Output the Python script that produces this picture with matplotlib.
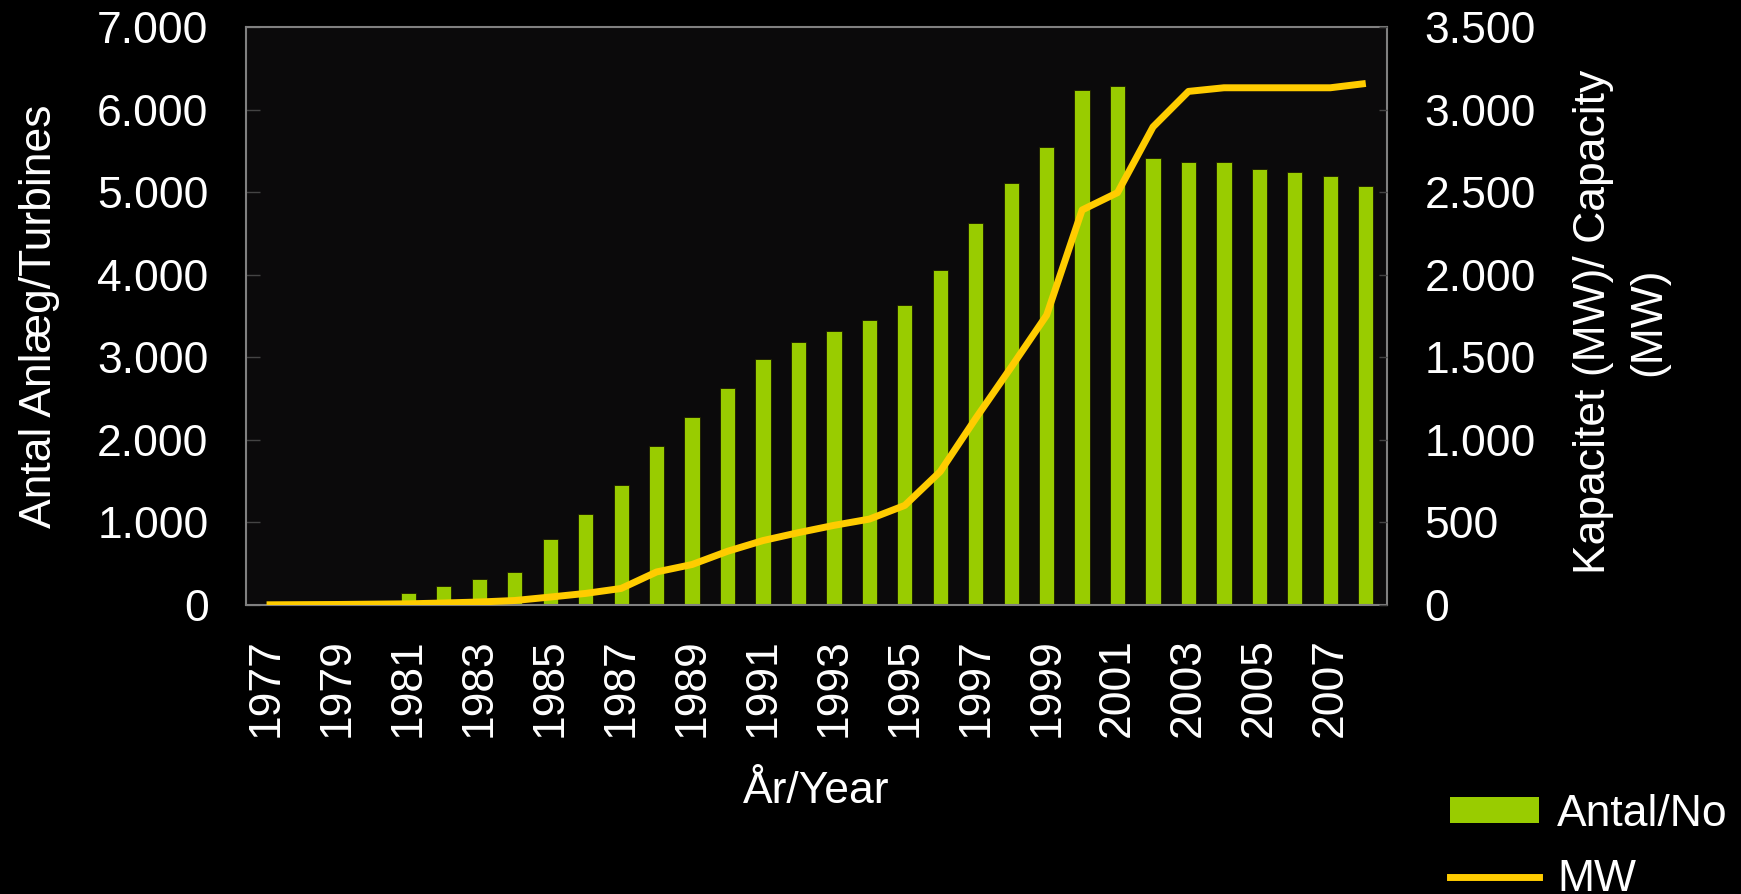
import numpy as np
import matplotlib
matplotlib.use("Agg")
import matplotlib.pyplot as plt
from matplotlib.patches import Patch
from matplotlib.lines import Line2D
from matplotlib.ticker import FuncFormatter

plt.rcParams['font.family'] = ['Liberation Sans', 'DejaVu Sans']

# data
years = list(range(1977, 2009))
turbines = [5, 10, 20, 50, 140, 230, 320, 400, 800, 1100, 1450, 1930,
            2280, 2630, 2980, 3190, 3320, 3450, 3630, 4060, 4630, 5110,
            5550, 6240, 6290, 5410, 5370, 5370, 5280, 5240, 5200, 5070]
mw = [1, 2, 3, 5, 7, 12, 18, 27, 48, 70, 100, 200, 245, 325, 390, 438,
      482, 520, 603, 808, 1130, 1440, 1755, 2392, 2497, 2895, 3110,
      3132, 3132, 3132, 3132, 3158]
year_labels = [str(y) if (y - 1977) % 2 == 0 else '' for y in years]

bar_color = '#99CC00'
line_color = '#FFCC00'
fs = 32

def dot_thousands(v, pos):
    return f'{int(v):,}'.replace(',', '.')

fig = plt.figure(figsize=(17.41, 8.94), dpi=100, facecolor='black')
ax = fig.add_axes([0.1413, 0.3233, 0.6554, 0.6465])
ax.set_facecolor('#0b0a0b')

x = np.arange(len(years))
ax.bar(x, turbines, width=0.43, color=bar_color, edgecolor='#1a1a00', linewidth=0.6)
ax.set_xlim(-0.58, len(years) - 1 + 0.6)
ax.set_ylim(0, 7000)
ax.set_yticks(range(0, 7001, 1000))
ax.yaxis.set_major_formatter(FuncFormatter(dot_thousands))
ax.set_xticks(x)
ax.set_xticklabels(year_labels, rotation=90, fontsize=fs, color='white')
ax.tick_params(axis='x', length=0, pad=24)
ax.tick_params(axis='y', direction='in', length=10, width=1, color='#444444',
               labelsize=fs, labelcolor='white', pad=27)
for s in ax.spines.values():
    s.set_color('#808080')
    s.set_linewidth(1.5)
ax.set_xlabel('År/Year', fontsize=fs, color='white', labelpad=24)
ax.set_ylabel('Antal Anlæg/Turbines', fontsize=fs, color='white', labelpad=27)

ax2 = ax.twinx()
ax2.plot(x, mw, color=line_color, linewidth=5, solid_capstyle='butt')
ax2.set_ylim(0, 3500)
ax2.set_yticks(range(0, 3501, 500))
ax2.yaxis.set_major_formatter(FuncFormatter(dot_thousands))
ax2.tick_params(axis='y', direction='in', length=6, width=1, color='#444444',
                labelsize=fs, labelcolor='white', pad=27)
for s in ax2.spines.values():
    s.set_visible(False)

fig.text(0.931, 0.64, 'Kapacitet (MW)/ Capacity\n(MW)', rotation=90,
         ha='center', va='center', multialignment='center',
         fontsize=fs, color='white', linespacing=1.45)

handles = [Patch(facecolor=bar_color, edgecolor='none'),
           Line2D([], [], color=line_color, linewidth=5)]
fig.legend(handles, ['Antal/No', 'MW'], loc='upper left',
           bbox_to_anchor=(0.81, 0.157), frameon=False, fontsize=fs,
           labelcolor='white', handlelength=2.0, handleheight=0.5,
           handletextpad=0.4, labelspacing=0.55, borderpad=0.4)

fig.savefig('out.png', dpi=100, facecolor='black')
